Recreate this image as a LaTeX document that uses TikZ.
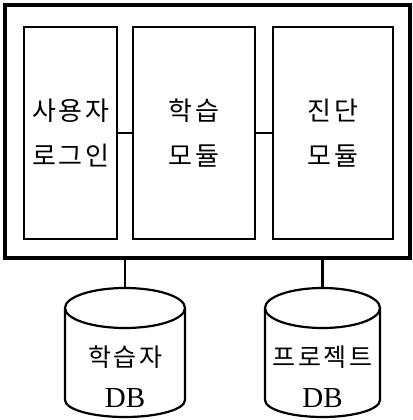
\documentclass[tikz,border=0pt]{standalone}
\usepackage{fontspec}
\newfontfamily\kr[LetterSpace=10]{Noto Sans CJK KR}
\newfontfamily\dbfont{Liberation Serif}
\begin{document}
\begin{tikzpicture}[x=1pt,y=-1pt,
  module/.style={draw,line width=2.2pt,inner sep=0pt,align=center,
    font=\kr\fontsize{26}{45}\selectfont},
  conn/.style={line width=2.2pt},
  cyl/.style={draw,line width=2.2pt,fill=white},
  dbtext/.style={inner sep=0pt,anchor=center}]
\useasboundingbox (0,0) rectangle (412,420);
\node[draw,line width=3.5pt,minimum width=405pt,minimum height=253pt,inner sep=0pt] (outer) at (207.5,131.5) {};
\node[module,minimum width=93pt,minimum height=212pt] (login) at (70.5,133) {사용자\\로그인};
\node[module,minimum width=122pt,minimum height=212pt] (learn) at (194,133) {학습\\모듈};
\node[module,minimum width=120pt,minimum height=212pt] (diag) at (333,133) {진단\\모듈};
\draw[conn] (login.east) -- (learn.west);
\draw[conn] (learn.east) -- (diag.west);
% cylinders
\draw[cyl] (65,308) -- (65,400) arc[start angle=180,end angle=0,x radius=60,y radius=17] -- (185,308);
\draw[cyl] (125,308) ellipse[x radius=60,y radius=20];
\coordinate (db1) at (125,288);
\draw[cyl] (265,308) -- (265,400) arc[start angle=180,end angle=0,x radius=57.5,y radius=17] -- (380,308);
\draw[cyl] (322.5,308) ellipse[x radius=57.5,y radius=20];
\coordinate (db2) at (322.5,288);
\draw[conn] (outer.south -| db1) -- (db1);
\draw[conn] (outer.south -| db2) -- (db2);
\node[dbtext,font=\kr\fontsize{25}{25}\selectfont] (t1) at (125,357) {학습자};
\node[dbtext,font=\dbfont\fontsize{29}{29}\selectfont] (d1) at (125,398) {DB};
\node[dbtext,font=\kr\fontsize{25}{25}\selectfont] (t2) at (322.5,357) {프로젝트};
\node[dbtext,font=\dbfont\fontsize{29}{29}\selectfont] (d2) at (322.5,398) {DB};
\end{tikzpicture}
\end{document}
